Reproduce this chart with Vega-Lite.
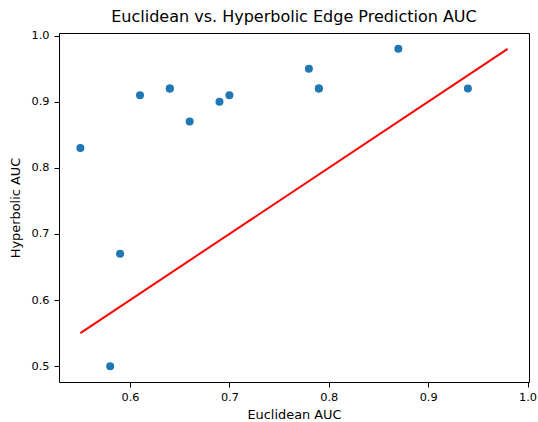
{
  "$schema": "https://vega.github.io/schema/vega-lite/v6.json",
  "width": 470,
  "height": 349,
  "autosize": {"type": "none"},
  "padding": {"left": 59, "top": 33, "right": 9, "bottom": 40},
  "background": "white",
  "config": {
    "font": "DejaVu Sans",
    "view": {"stroke": "black", "strokeWidth": 1},
    "axis": {
      "grid": false,
      "domain": false,
      "tickColor": "black",
      "tickSize": 5,
      "labelFont": "DejaVu Sans",
      "labelFontSize": 11.3,
      "labelColor": "black",
      "titleFont": "DejaVu Sans",
      "titleFontSize": 12.9,
      "titleFontWeight": "normal",
      "titleColor": "black"
    }
  },
  "title": {
    "text": "Euclidean vs. Hyperbolic Edge Prediction AUC",
    "font": "DejaVu Sans",
    "fontSize": 16,
    "fontWeight": "normal",
    "color": "black",
    "offset": 5
  },
  "datasets": {
    "points": [
      {"euclidean": 0.55, "hyperbolic": 0.83},
      {"euclidean": 0.58, "hyperbolic": 0.50},
      {"euclidean": 0.59, "hyperbolic": 0.67},
      {"euclidean": 0.61, "hyperbolic": 0.91},
      {"euclidean": 0.64, "hyperbolic": 0.92},
      {"euclidean": 0.64, "hyperbolic": 0.92},
      {"euclidean": 0.66, "hyperbolic": 0.87},
      {"euclidean": 0.69, "hyperbolic": 0.90},
      {"euclidean": 0.70, "hyperbolic": 0.91},
      {"euclidean": 0.78, "hyperbolic": 0.95},
      {"euclidean": 0.79, "hyperbolic": 0.92},
      {"euclidean": 0.79, "hyperbolic": 0.92},
      {"euclidean": 0.87, "hyperbolic": 0.98},
      {"euclidean": 0.94, "hyperbolic": 0.92}
    ],
    "line": [
      {"euclidean": 0.55, "hyperbolic": 0.55},
      {"euclidean": 0.98, "hyperbolic": 0.98}
    ]
  },
  "layer": [
    {
      "data": {"name": "points"},
      "mark": {"type": "point", "filled": true, "opacity": 1, "color": "#1f77b4", "size": 64},
      "encoding": {
        "x": {
          "field": "euclidean", "type": "quantitative",
          "scale": {"domain": [0.5285, 1.0015], "nice": false, "zero": false},
          "axis": {"title": "Euclidean AUC", "values": [0.6, 0.7, 0.8, 0.9, 1.0], "format": ".1f", "labelPadding": 4, "titlePadding": 6}
        },
        "y": {
          "field": "hyperbolic", "type": "quantitative",
          "scale": {"domain": [0.476, 1.004], "nice": false, "zero": false},
          "axis": {"title": "Hyperbolic AUC", "values": [0.5, 0.6, 0.7, 0.8, 0.9, 1.0], "format": ".1f", "labelPadding": 5, "titlePadding": 9}
        }
      }
    },
    {
      "data": {"name": "line"},
      "mark": {"type": "line", "color": "red", "strokeWidth": 2},
      "encoding": {
        "x": {"field": "euclidean", "type": "quantitative"},
        "y": {"field": "hyperbolic", "type": "quantitative"}
      }
    }
  ]
}
